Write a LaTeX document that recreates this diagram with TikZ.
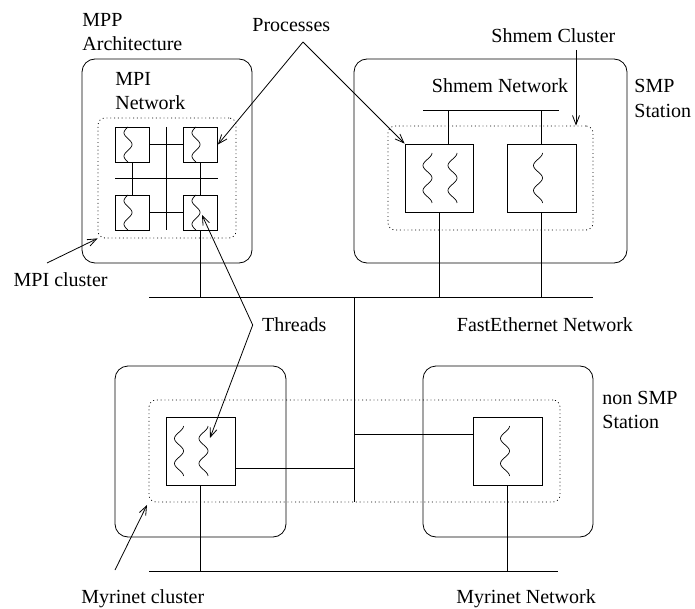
\documentclass[tikz,border=0pt]{standalone}
\usepackage{fontspec}
\setmainfont{Liberation Serif}
\usetikzlibrary{arrows.meta}
\newcommand{\mywaveA}[3]{\draw[line width=0.7pt] plot[smooth, samples=41, domain=0:1, variable=\t] ({#1-4*sin(540*\t)},{#2+(#3-#2)*\t});}
\newcommand{\mywaveB}[3]{\draw[line width=0.7pt] plot[smooth, samples=41, domain=0:1, variable=\t] ({#1+4.5*cos(720*\t)},{#2+(#3-#2)*\t});}
\begin{document}
\begin{tikzpicture}[x=1pt,y=-1pt,line width=0.8pt,
  font=\fontsize{20}{24.5}\selectfont,
  box/.style={draw, rounded corners=13pt, inner sep=0pt},
  cluster/.style={draw, dash pattern=on 0.9pt off 2.9pt, rounded corners=7pt, inner sep=0pt},
  proc/.style={draw, inner sep=0pt},
  lbl/.style={anchor=base west, inner sep=0pt, align=left},
  arr/.style={-{Straight Barb[length=9pt,width=7pt]}}]
\useasboundingbox (0,0) rectangle (695,609);

% ---------- MPP architecture ----------
\node[box, minimum width=170pt, minimum height=204pt] (mpp) at (167,161) {};
\node[cluster, minimum width=138pt, minimum height=120pt] (mpic) at (167,178) {};
\node[proc, minimum width=34pt, minimum height=35pt] (p1) at (132,144.5) {};
\node[proc, minimum width=34pt, minimum height=35pt] (p2) at (200.5,144.5) {};
\node[proc, minimum width=34pt, minimum height=35pt] (p3) at (132,212.5) {};
\node[proc, minimum width=34pt, minimum height=35pt] (p4) at (200.5,212.5) {};
\coordinate (gv1) at (166,127);
\coordinate (gv2) at (166,230);
\coordinate (gh1) at (115,178);
\coordinate (gh2) at (218,178);
\draw (gv1) -- (gv2);
\draw (gh1) -- (gh2);
\draw (p1.east) -- (p2.west);
\draw (p3.east) -- (p4.west);
\draw (p1.south) -- (p3.north);
\draw (p2.south) -- (p4.north);
\mywaveA{128}{127}{162}
\mywaveA{196}{127}{162}
\mywaveA{128}{195}{230}
\mywaveA{196}{195}{230}

% ---------- SMP station ----------
\node[box, minimum width=273pt, minimum height=204pt] (smp) at (490.5,161) {};
\node[cluster, minimum width=205pt, minimum height=104pt] (smpc) at (490.5,178) {};
\node[proc, minimum width=68pt, minimum height=68pt] (s1) at (439,178) {};
\node[proc, minimum width=69pt, minimum height=68pt] (s2) at (541.5,178) {};
\coordinate (sn1) at (423,110);
\coordinate (sn2) at (559,110);
\draw (sn1) -- (sn2);
\draw ([xshift=9pt]s1.north) -- ([xshift=9pt]s1.north |- sn1);
\draw (s2.north) -- (s2.north |- sn1);
\mywaveB{427.5}{153}{203}
\mywaveB{452.5}{153}{203}
\mywaveB{538}{153}{203}

% ---------- FastEthernet ----------
\coordinate (fe1) at (149,297);
\coordinate (fe2) at (593,297);
\draw (fe1) -- (fe2);
\draw (p4.south) -- (p4.south |- fe1);
\draw (s1.south) -- (s1.south |- fe1);
\draw (s2.south) -- (s2.south |- fe1);
\coordinate (hub) at (354,297);
\coordinate (hubb) at (354,502);
\draw (hub) -- (hubb);

% ---------- bottom stations ----------
\node[box, minimum width=171pt, minimum height=171pt] (mleft) at (200.5,451.5) {};
\node[box, minimum width=170pt, minimum height=171pt] (mright) at (508,451.5) {};
\node[cluster, minimum width=411pt, minimum height=102pt] (myrc) at (354.5,451) {};
\node[proc, minimum width=69pt, minimum height=68pt] (m1) at (200.5,451) {};
\node[proc, minimum width=69pt, minimum height=68pt] (m2) at (507.5,451) {};
\draw ([yshift=-17pt]m1.east) -- ([yshift=-17pt]m1.east -| hub);
\draw ([yshift=17pt]m2.west) -- ([yshift=17pt]m2.west -| hub);
\mywaveB{179}{426}{476}
\mywaveB{203.5}{426}{476}
\mywaveB{505}{426}{476}
\coordinate (my1) at (149,571);
\coordinate (my2) at (558,571);
\draw (my1) -- (my2);
\draw (m1.south) -- (m1.south |- my1);
\draw (m2.south) -- (m2.south |- my1);

% ---------- labels ----------
\node[lbl] (lmpp) at (82,51) {MPP\\Architecture};
\node[lbl] (lmpi) at (115,110) {MPI\\Network};
\node[lbl] (lproc) at (252,32) {Processes};
\node[lbl] (lshc) at (491,42.7) {Shmem Cluster};
\node[lbl] (lshn) at (431.5,92.7) {Shmem Network};
\node[lbl] (lsmp) at (634,117.2) {SMP\\Station};
\node[lbl] (lmpic) at (13.3,286.7) {MPI cluster};
\node[lbl] (lthr) at (261.7,331.7) {Threads};
\node[lbl] (lfe) at (456.5,331.7) {FastEthernet Network};
\node[lbl] (lnsmp) at (602,428.5) {non SMP\\Station};
\node[lbl] (lmyc) at (81,603) {Myrinet cluster};
\node[lbl] (lmyn) at (456,603) {Myrinet Network};

% ---------- arrows ----------
\coordinate (procA) at (303,42);
\draw[arr] (procA) -- (p2.east);
\draw[arr] (procA) -- (s1.north west);
\coordinate (shA) at (576,50);
\draw[arr] (shA) -- (shA |- smpc.north);
\coordinate (mpiA) at (47,263);
\draw[arr] (mpiA) -- (mpic.south west);
\coordinate (thrA) at (252.7,325);
\coordinate (thrT1) at (202,215);
\coordinate (thrT2) at (210,438);
\draw[arr] (thrA) -- (thrT1);
\draw[arr] (thrA) -- (thrT2);
\coordinate (myA) at (115,570);
\coordinate (myT) at (147,505);
\draw[arr] (myA) -- (myT);
\end{tikzpicture}
\end{document}
